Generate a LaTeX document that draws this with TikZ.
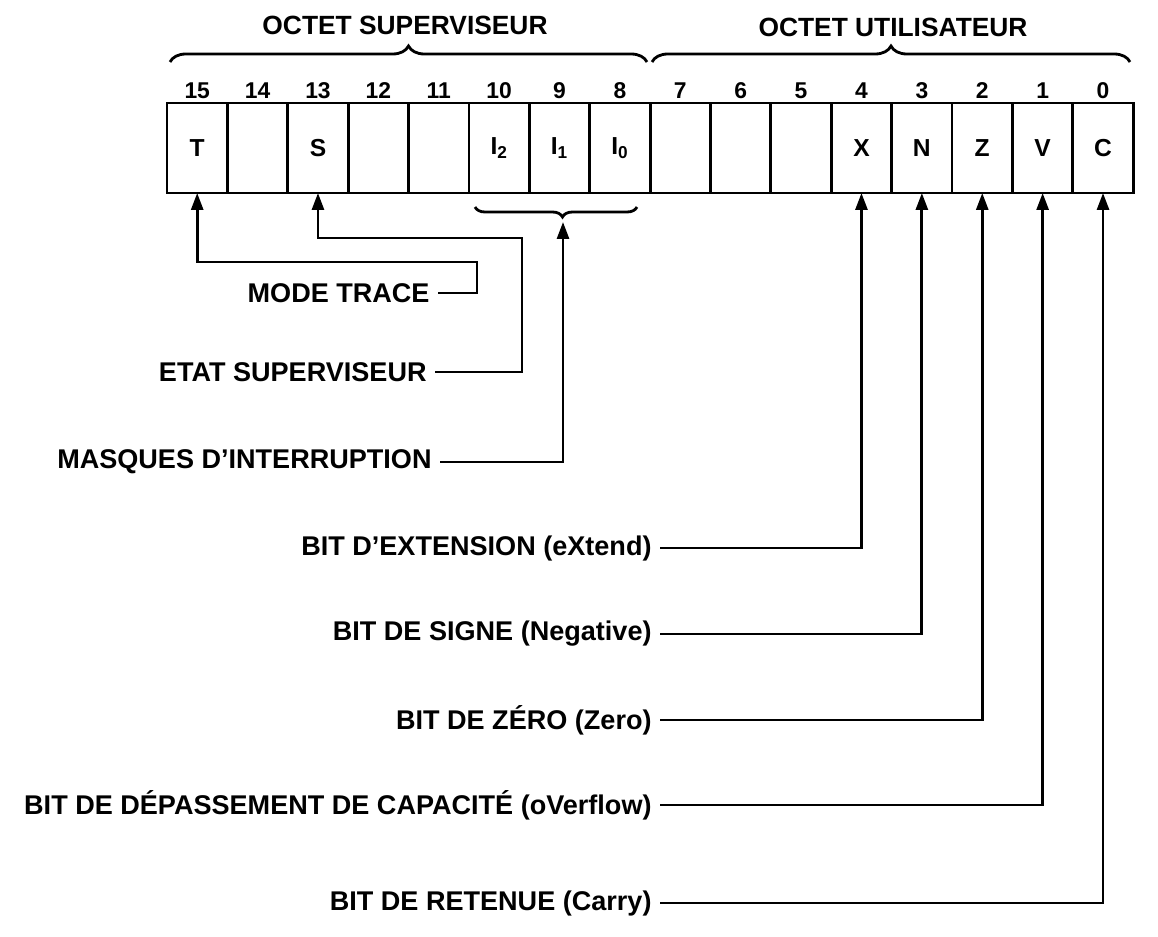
\documentclass[tikz,border=0pt]{standalone}
\usepackage{fontspec}
\setmainfont{Liberation Sans}
\usetikzlibrary{arrows.meta,positioning,decorations.pathreplacing}

\begin{document}
\begin{tikzpicture}[
	x=0.02cm, y=-0.02cm,
	>={Triangle[length=3.4mm,width=2.4mm]},
	line width=1.6pt,
	cell/.style={
		draw, outer sep=0pt, inner sep=0pt, minimum width=1.208cm,
		minimum height=1.8cm, font=\bfseries\fontsize{14}{16}\selectfont
	},
	bitnum/.style={inner sep=1.5pt, font=\bfseries\fontsize{13}{15}\selectfont},
	head/.style={font=\bfseries\fontsize{15}{17}\selectfont},
	lbl/.style={anchor=east, inner sep=4pt, font=\bfseries\fontsize{15.4}{17}\selectfont},
	curly/.style={decorate, decoration={brace, amplitude=#1}},
	curly/.default=3mm,
	link/.style={->, line width=1.6pt}
	]
	\useasboundingbox (0,0) rectangle (1158,936);

	% register cells, bit 15 down to bit 0
	\node[cell] (b15) at (197.2,148) {T};
	\foreach \i/\t in {14/,13/S,12/,11/,10/I\textsubscript{2},9/I\textsubscript{1},8/I\textsubscript{0},7/,6/,5/,4/X,3/N,2/Z,1/V,0/C}{
		\pgfmathtruncatemacro{\j}{\i+1}
		\node[cell, right=0pt of b\j] (b\i) {\t};
	}
	\foreach \i in {0,...,15}
	\node[bitnum, above=0pt of b\i] (n\i) {\i};

	% byte headings
	\draw[curly=3.2mm] (170,62) -- (647,62);
	\draw[curly=3.2mm] (652,62) -- (1130,62);
	\node[head] (supv) at (405,25) {OCTET SUPERVISEUR};
	\node[head] (util) at (893,27) {OCTET UTILISATEUR};

	% interrupt mask brace
	\draw[curly=2mm, decoration={mirror, aspect=0.54}] (475,207) -- (637,207);
	\coordinate (masktip) at (563,222);

	% labels
	\node[lbl] (trace) at (438,293) {MODE TRACE};
	\node[lbl] (etat) at (435,372) {ETAT SUPERVISEUR};
	\node[lbl] (masq) at (440,462) {MASQUES D'INTERRUPTION};
	\node[lbl] (ext) at (660,548) {BIT D'EXTENSION (eXtend)};
	\node[lbl] (sign) at (660,634) {BIT DE SIGNE (Negative)};
	\node[lbl] (zero) at (660,720) {BIT DE ZÉRO (Zero)};
	\node[lbl] (over) at (660,805) {BIT DE DÉPASSEMENT DE CAPACITÉ (oVerflow)};
	\node[lbl] (carry) at (660,903) {BIT DE RETENUE (Carry)};

	% connectors
	\coordinate (traceknee) at (477,262);
	\coordinate (etatknee) at (522,238);
	\draw[link] (trace.east) -| (traceknee) -| (b15.south);
	\draw[link] (etat.east) -| (etatknee) -| (b13.south);
	\draw[link] (masq.east) -| (masktip);
	\foreach \n/\b in {ext/4,sign/3,zero/2,over/1,carry/0}
	\draw[link] (\n.east) -| (b\b.south);
\end{tikzpicture}
\end{document}
